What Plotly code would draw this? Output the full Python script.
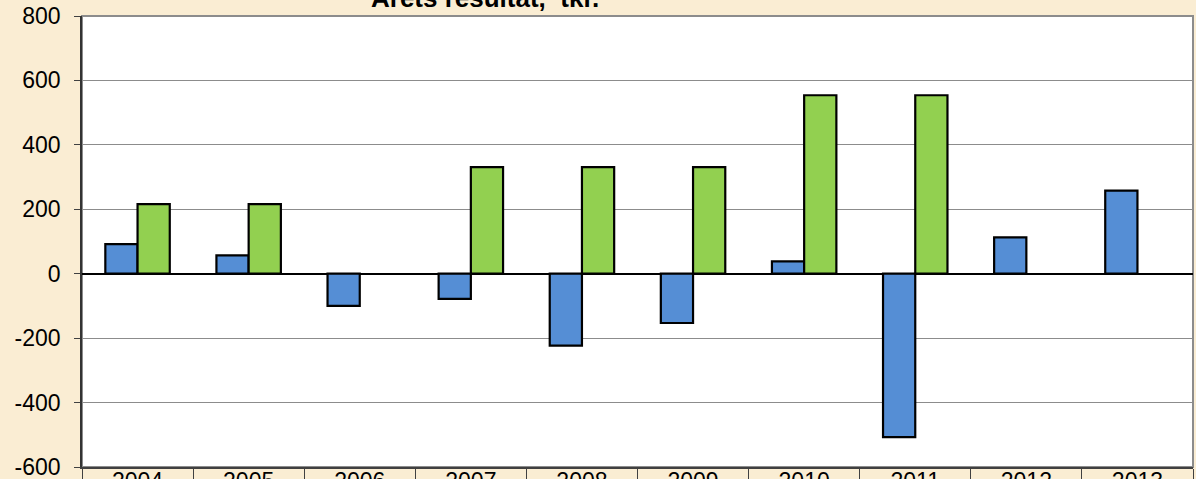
import plotly.graph_objects as go

years = ["2004", "2005", "2006", "2007", "2008", "2009", "2010", "2011", "2012", "2013"]
resultat = [92, 57, -100, -78, -223, -153, 38, -507, 113, 258]
budget = [216, 216, None, 331, 331, 331, 554, 554, None, None]
title_text = "Årets resultat,\u00a0 tkr."
y_ticks = [-600, -400, -200, 0, 200, 400, 600, 800]
y_tick_text = ["-600", "-400", "-200", "0", "200", "400", "600", "800"]

FONT = "Liberation Sans, Arial, sans-serif"

fig = go.Figure()
fig.add_trace(go.Bar(x=years, y=resultat, name="Resultat",
                     marker=dict(color="#558ED5", line=dict(color="#000000", width=2.2))))
fig.add_trace(go.Bar(x=years, y=budget, name="Budget",
                     marker=dict(color="#92D050", line=dict(color="#000000", width=2.2))))

fig.update_layout(
    width=1196, height=479,
    margin=dict(l=82, r=3, t=16, b=12),
    paper_bgcolor="#FAEDD3",
    plot_bgcolor="#FFFFFF",
    barmode="group", bargap=0.42, bargroupgap=0,
    showlegend=False,
    font=dict(family=FONT, size=23, color="#000000"),
    xaxis=dict(type="category", tickson="boundaries", ticks="outside", ticklen=14,
               tickcolor="#404040", showgrid=False, showline=True, linecolor="#404040",
               linewidth=1.5, ticklabelstandoff=-7, tickfont=dict(size=23),
               automargin=False, ticklabeloverflow="allow"),
    yaxis=dict(range=[-600, 800], tickvals=y_ticks, ticktext=y_tick_text,
               ticks="outside", ticklen=6,
               tickcolor="#404040", showline=True, linecolor="#333333", linewidth=1.5,
               showgrid=True, gridcolor="#8C8C8C", gridwidth=1,
               zeroline=True, zerolinecolor="#000000", zerolinewidth=1.5,
               ticklabelstandoff=9, tickfont=dict(size=23), automargin=False,
               ticklabeloverflow="allow"),
    shapes=[dict(type="rect", xref="paper", yref="paper", x0=0, x1=1, y0=0, y1=1,
                 line=dict(color="#8C8C8C", width=2), layer="below")],
    annotations=[dict(text="<b>" + title_text + "</b>", xref="paper", yref="paper",
                      x=0.3627, y=1.0, yanchor="bottom", xanchor="center", yshift=1,
                      showarrow=False, font=dict(size=26, family=FONT))],
)

fig.write_html("out.html", config={"displayModeBar": False},
               post_script="document.body.style.margin='0';document.body.style.overflow='hidden';document.body.style.background='#FAEDD3';")
